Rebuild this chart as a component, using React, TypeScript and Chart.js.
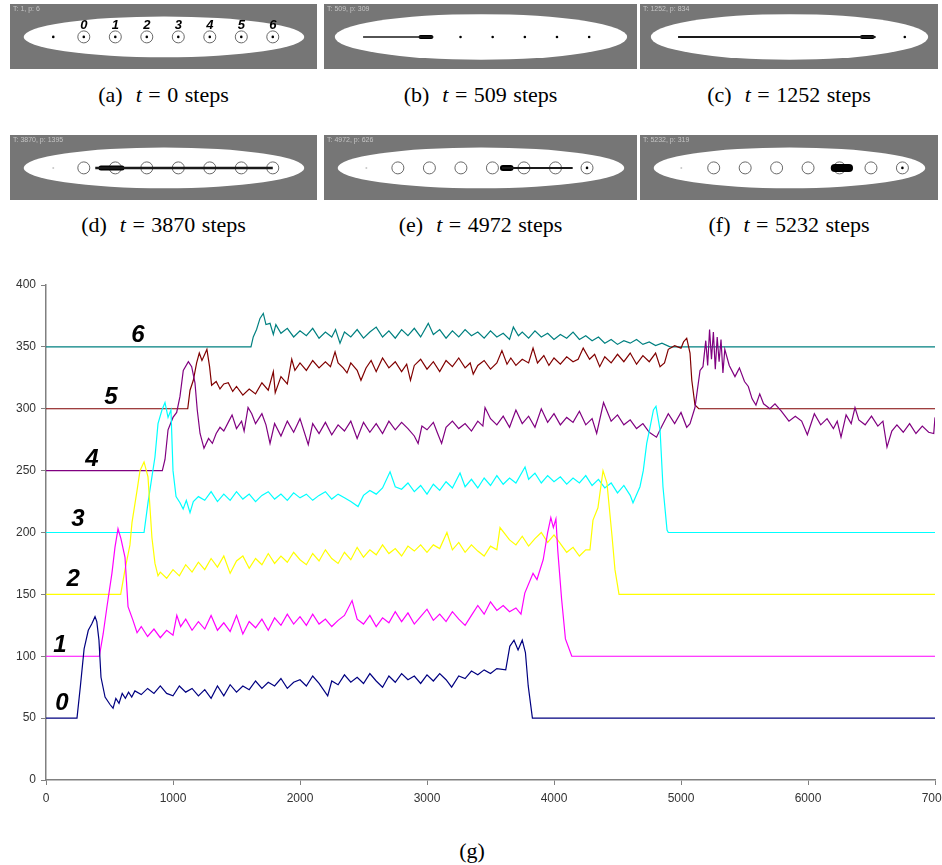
import React, { useEffect, useRef } from 'react';
import { Chart, registerables } from 'chart.js';
Chart.register(...registerables);

// ---------- main chart (g) : [step, value] pairs ----------
const series0: [number, number][] = [[0,50],[244,50],[270,75],[300,106],[333,121],[360,126],[386,132],[400,128],[417,113],[433,83],[465,67],[504,61],[528,58],[550,66],[575,62],[600,70],[625,66],[650,71],[675,67],[700,72],[750,69],[800,74],[850,70],[900,76],[950,70],[1000,68],[1050,76],[1100,71],[1150,74],[1200,68],[1250,73],[1300,66],[1350,76],[1400,68],[1450,77],[1500,71],[1550,76],[1600,73],[1650,80],[1700,74],[1750,79],[1800,76],[1850,82],[1900,74],[1950,79],[2000,81],[2050,76],[2100,84],[2150,78],[2218,68],[2250,80],[2300,77],[2350,85],[2400,79],[2450,83],[2500,78],[2550,86],[2600,80],[2650,75],[2700,84],[2750,79],[2800,86],[2850,81],[2900,84],[2950,78],[3000,85],[3050,80],[3100,86],[3150,81],[3194,75],[3250,84],[3300,82],[3350,88],[3400,85],[3450,89],[3500,86],[3550,90],[3620,89],[3652,108],[3685,113],[3717,105],[3750,113],[3775,103],[3797,76],[3830,50],[7000,50]];
const series1: [number, number][] = [[0,100],[420,100],[450,118],[480,140],[519,167],[543,188],[567,203],[590,195],[622,180],[646,140],[685,129],[717,119],[750,124],[800,116],[850,122],[900,115],[950,121],[1000,117],[1030,133],[1060,124],[1100,130],[1150,121],[1200,128],[1250,122],[1300,133],[1350,121],[1400,127],[1450,120],[1500,133],[1550,118],[1600,128],[1650,123],[1700,130],[1750,121],[1800,131],[1850,125],[1900,134],[1950,126],[2000,132],[2050,125],[2100,134],[2150,126],[2200,130],[2250,124],[2300,129],[2350,133],[2410,145],[2450,130],[2500,126],[2550,133],[2600,124],[2650,131],[2700,127],[2750,136],[2800,128],[2850,135],[2900,126],[2950,132],[3000,138],[3050,129],[3100,134],[3150,128],[3200,136],[3250,130],[3300,125],[3350,133],[3400,141],[3450,134],[3500,144],[3550,137],[3600,141],[3650,136],[3700,139],[3740,134],[3770,151],[3835,167],[3866,162],[3915,178],[3950,200],[3975,212],[3995,204],[4015,211],[4030,185],[4060,146],[4090,114],[4140,100],[7000,100]];
const series2: [number, number][] = [[0,150],[588,150],[622,170],[661,190],[677,208],[717,234],[740,250],[772,257],[803,245],[834,196],[858,175],[882,165],[900,168],[950,163],[1000,170],[1050,165],[1100,174],[1150,168],[1200,176],[1250,170],[1300,179],[1350,172],[1400,181],[1450,167],[1500,177],[1550,181],[1600,171],[1650,179],[1700,174],[1750,183],[1800,175],[1850,181],[1900,176],[1950,184],[2000,178],[2050,174],[2100,183],[2150,177],[2200,186],[2250,179],[2300,175],[2350,184],[2400,178],[2450,188],[2500,180],[2550,186],[2600,182],[2650,190],[2700,183],[2750,187],[2800,181],[2850,189],[2900,185],[2950,190],[3000,184],[3050,190],[3100,187],[3157,200],[3200,186],[3250,192],[3300,184],[3350,190],[3400,185],[3450,181],[3500,189],[3550,186],[3575,204],[3650,194],[3700,190],[3750,197],[3800,189],[3850,195],[3900,200],[3950,192],[4000,198],[4050,191],[4100,184],[4150,188],[4200,181],[4250,186],[4283,186],[4307,210],[4346,220],[4386,250],[4417,240],[4457,197],[4480,170],[4512,150],[7000,150]];
const series3: [number, number][] = [[0,200],[772,200],[803,224],[834,245],[858,261],[882,288],[913,299],[937,305],[961,293],[984,299],[1000,250],[1024,229],[1055,224],[1080,219],[1105,226],[1134,216],[1160,225],[1200,229],[1250,226],[1300,233],[1350,225],[1400,231],[1450,226],[1500,233],[1550,227],[1600,231],[1650,225],[1700,230],[1750,233],[1800,227],[1850,231],[1900,226],[1950,232],[2000,228],[2050,231],[2100,226],[2150,230],[2200,233],[2250,227],[2300,231],[2350,228],[2400,225],[2457,221],[2500,230],[2550,234],[2600,231],[2650,236],[2709,249],[2750,237],[2800,235],[2850,240],[2900,233],[2950,238],[3000,231],[3050,239],[3100,234],[3150,241],[3200,236],[3260,248],[3300,237],[3350,243],[3400,236],[3450,244],[3500,238],[3550,246],[3600,239],[3650,244],[3700,240],[3772,253],[3800,243],[3850,248],[3900,240],[3950,246],[4000,241],[4050,245],[4100,239],[4150,244],[4200,240],[4250,246],[4300,238],[4350,243],[4400,236],[4450,240],[4500,232],[4550,238],[4600,230],[4622,224],[4677,237],[4703,250],[4730,272],[4756,285],[4783,299],[4803,302],[4835,283],[4858,237],[4890,202],[4900,200],[7000,200]];
const series4: [number, number][] = [[0,250],[916,250],[937,259],[961,283],[1000,293],[1029,297],[1055,310],[1081,331],[1121,338],[1147,334],[1173,321],[1191,299],[1213,280],[1244,268],[1280,276],[1310,272],[1340,280],[1370,285],[1400,282],[1440,290],[1465,295],[1500,284],[1540,290],[1560,282],[1591,301],[1620,296],[1650,288],[1700,296],[1732,287],[1764,272],[1800,288],[1850,278],[1900,290],[1950,281],[2000,292],[2065,271],[2100,288],[2150,280],[2200,289],[2250,279],[2300,287],[2350,282],[2400,290],[2450,276],[2500,289],[2550,281],[2600,288],[2650,280],[2700,290],[2750,283],[2800,289],[2850,284],[2900,278],[2930,272],[2960,286],[3000,283],[3050,289],[3080,281],[3115,272],[3150,285],[3200,290],[3250,284],[3300,288],[3350,282],[3400,290],[3440,286],[3457,301],[3500,292],[3550,287],[3600,294],[3650,285],[3700,299],[3750,288],[3800,294],[3850,285],[3900,300],[3950,289],[4000,296],[4050,287],[4100,293],[4150,289],[4200,298],[4250,287],[4300,292],[4336,280],[4390,305],[4450,290],[4500,295],[4550,287],[4600,291],[4650,284],[4700,288],[4750,281],[4807,277],[4850,286],[4900,296],[4950,288],[5000,297],[5045,285],[5071,288],[5110,301],[5150,331],[5173,334],[5195,355],[5210,335],[5225,364],[5240,340],[5255,362],[5270,332],[5285,358],[5300,338],[5315,356],[5330,329],[5345,348],[5380,335],[5425,326],[5460,333],[5500,322],[5530,318],[5560,308],[5590,303],[5620,312],[5650,304],[5700,300],[5740,304],[5790,298],[5850,290],[5900,294],[5950,290],[5995,279],[6050,296],[6100,287],[6150,292],[6200,284],[6230,290],[6260,277],[6300,295],[6340,288],[6370,301],[6400,291],[6450,287],[6500,294],[6550,286],[6590,290],[6622,269],[6660,282],[6700,287],[6750,281],[6800,288],[6850,280],[6900,286],[6950,281],[6990,280],[7000,293]];
const series5: [number, number][] = [[0,300],[1116,300],[1134,315],[1160,323],[1186,337],[1207,345],[1228,339],[1250,344],[1267,348],[1288,334],[1304,319],[1340,322],[1370,316],[1400,320],[1435,321],[1470,314],[1500,318],[1550,311],[1600,316],[1650,312],[1700,321],[1750,315],[1790,330],[1805,313],[1850,326],[1900,320],[1935,340],[1960,331],[2000,337],[2050,331],[2100,339],[2150,333],[2200,338],[2240,334],[2276,346],[2300,337],[2340,333],[2370,329],[2400,337],[2450,331],[2480,323],[2520,333],[2560,339],[2600,330],[2650,341],[2700,333],[2750,338],[2800,330],[2840,336],[2870,323],[2900,335],[2950,340],[3000,332],[3050,338],[3100,330],[3150,339],[3200,334],[3250,341],[3300,333],[3340,337],[3364,328],[3400,335],[3450,339],[3500,332],[3550,337],[3590,347],[3630,336],[3660,341],[3700,335],[3750,340],[3800,337],[3835,349],[3870,337],[3920,343],[3960,335],[4000,341],[4050,336],[4100,342],[4150,338],[4190,340],[4230,349],[4280,340],[4320,344],[4360,334],[4400,342],[4450,337],[4500,344],[4550,338],[4600,345],[4650,336],[4700,343],[4750,338],[4800,345],[4835,334],[4870,337],[4900,348],[4950,351],[5000,349],[5020,354],[5045,357],[5071,345],[5085,323],[5110,303],[5140,300],[7000,300]];
const series6: [number, number][] = [[0,350],[1614,350],[1632,358],[1658,364],[1685,373],[1711,377],[1732,368],[1764,369],[1790,360],[1810,368],[1850,361],[1900,365],[1950,358],[2000,363],[2050,359],[2100,365],[2150,357],[2200,362],[2250,358],[2280,364],[2315,353],[2350,362],[2400,358],[2450,364],[2500,357],[2550,362],[2600,366],[2650,358],[2700,363],[2750,357],[2800,364],[2850,359],[2900,365],[2950,358],[3010,369],[3050,360],[3100,364],[3150,357],[3200,363],[3250,358],[3300,364],[3350,359],[3400,362],[3450,357],[3500,363],[3550,358],[3600,361],[3650,356],[3680,366],[3720,359],[3750,362],[3800,357],[3850,363],[3900,358],[3950,361],[4000,356],[4050,360],[4100,357],[4150,362],[4200,356],[4250,359],[4300,355],[4350,358],[4400,353],[4450,356],[4500,352],[4550,355],[4600,353],[4650,356],[4700,352],[4750,354],[4800,351],[4850,353],[4913,350],[7000,350]];

const seriesList = [series0, series1, series2, series3, series4, series5, series6];
const seriesNames = ['0', '1', '2', '3', '4', '5', '6'];
const seriesColors = ['#000080', '#FF00FF', '#FFFF00', '#00FFFF', '#800080', '#800000', '#008080'];
// hand-written series labels on the chart (step, value)
const labelSteps = [126, 110, 213, 252, 362, 512, 724];
const labelValues = [62, 109, 162, 211, 259, 309, 359];

// ---------- snapshot panels (a)–(f) ----------
const panelLetters = ['a', 'b', 'c', 'd', 'e', 'f'];
const panelSteps = [0, 509, 1252, 3870, 4972, 5232];
const panelInfo = ['T: 1, p: 6', 'T: 509, p: 309', 'T: 1252, p: 834', 'T: 3870, p: 1395', 'T: 4972, p: 626', 'T: 5232, p: 319'];
const sitePositions = [70, 103, 136, 169, 202, 235, 268];
const panelCircles = [sitePositions, [], [], sitePositions, sitePositions, sitePositions];
const panelDots = [[38, 70, 103, 136, 169, 202, 235, 268], [136, 169, 202, 235, 268], [268], [], [268], [268]];
const panelFaintDots = [[], [], [], [38], [37], [36]];
const streamFrom = [null, 36, 35, 82, 179, null];
const streamTo = [null, 108, 238, 268, 253, null];
const streamWidth = [0, 1.6, 2, 2.5, 2, 0];
const blobFrom = [null, 95, 224, 88, 180, 197];
const blobTo = [null, 106, 235, 110, 188, 212];
const blobWidth = [0, 4, 4, 5, 6, 8];

const PANEL_W = [307, 313, 298, 307, 313, 298];
const PANEL_LEFT = [10, 324, 640, 10, 324, 640];
const PANEL_TOP = [4, 4, 4, 135, 135, 135];
const PANEL_H = 65;

function Panel({ idx }: { idx: number }) {
  const ref = useRef<HTMLCanvasElement>(null);
  useEffect(() => {
    if (!ref.current) return;
    const W = PANEL_W[idx];
    const datasets: any[] = [];
    const cy = 32;
    if (streamFrom[idx] !== null) {
      datasets.push({
        type: 'line', data: [{ x: streamFrom[idx], y: cy }, { x: streamTo[idx], y: cy }],
        borderColor: '#1a1a1a', borderWidth: streamWidth[idx], pointRadius: 0,
      });
    }
    if (blobFrom[idx] !== null) {
      datasets.push({
        type: 'line', data: [{ x: blobFrom[idx], y: cy }, { x: blobTo[idx], y: cy }],
        borderColor: '#000', borderWidth: blobWidth[idx], borderCapStyle: 'round', pointRadius: 0,
      });
    }
    datasets.push({
      type: 'scatter', data: panelCircles[idx].map((x) => ({ x, y: cy })),
      pointStyle: 'circle', pointRadius: 6, borderColor: '#6a6a6a', borderWidth: 1,
      backgroundColor: 'rgba(0,0,0,0)',
    });
    datasets.push({
      type: 'scatter', data: panelDots[idx].map((x) => ({ x, y: cy })),
      pointRadius: 1.3, borderWidth: 0, backgroundColor: '#000',
    });
    datasets.push({
      type: 'scatter', data: panelFaintDots[idx].map((x) => ({ x, y: cy })),
      pointRadius: 1, borderWidth: 0, backgroundColor: '#c8c8c8',
    });
    const bg = {
      id: 'bg' + idx,
      beforeDraw(chart: any) {
        const { ctx, scales } = chart;
        ctx.save();
        ctx.fillStyle = '#767676';
        ctx.fillRect(0, 0, chart.width, chart.height);
        const x0 = scales.x.getPixelForValue(7);
        const x1 = scales.x.getPixelForValue(W - 6);
        const y0 = scales.y.getPixelForValue(58);
        const y1 = scales.y.getPixelForValue(6);
        ctx.fillStyle = '#ffffff';
        ctx.beginPath();
        ctx.ellipse((x0 + x1) / 2, (y0 + y1) / 2, (x1 - x0) / 2, (y1 - y0) / 2, 0, 0, Math.PI * 2);
        ctx.fill();
        ctx.fillStyle = '#c4c4c4';
        ctx.font = '7px "Liberation Sans", sans-serif';
        ctx.textBaseline = 'top';
        ctx.fillText(panelInfo[idx], 3, 2);
        ctx.restore();
      },
      afterDatasetsDraw(chart: any) {
        if (idx !== 0) return;
        const { ctx, scales } = chart;
        ctx.save();
        ctx.fillStyle = '#000';
        ctx.font = 'italic bold 13px "Liberation Sans", sans-serif';
        ctx.textAlign = 'center';
        ctx.textBaseline = 'middle';
        sitePositions.forEach((x, i) => {
          ctx.fillText(seriesNames[i], scales.x.getPixelForValue(x), scales.y.getPixelForValue(46));
        });
        ctx.restore();
      },
    };
    const chart = new Chart(ref.current, {
      type: 'scatter',
      data: { datasets },
      options: {
        animation: false, responsive: false, events: [],
        layout: { padding: 0 },
        plugins: { legend: { display: false }, tooltip: { enabled: false } },
        scales: {
          x: { type: 'linear', min: 0, max: W, display: false },
          y: { type: 'linear', min: 0, max: PANEL_H, display: false },
        },
      },
      plugins: [bg],
    });
    return () => chart.destroy();
  }, [idx]);
  return (
    <canvas ref={ref} width={PANEL_W[idx]} height={PANEL_H}
      style={{ position: 'absolute', left: PANEL_LEFT[idx], top: PANEL_TOP[idx], width: PANEL_W[idx], height: PANEL_H }} />
  );
}

function MainChart() {
  const ref = useRef<HTMLCanvasElement>(null);
  useEffect(() => {
    if (!ref.current) return;
    const labelsPlugin = {
      id: 'seriesLabels',
      afterDatasetsDraw(chart: any) {
        const { ctx, scales } = chart;
        ctx.save();
        ctx.fillStyle = '#000';
        ctx.font = 'italic bold 24px "Liberation Sans", sans-serif';
        ctx.textAlign = 'center';
        ctx.textBaseline = 'middle';
        seriesNames.forEach((n, i) => {
          ctx.fillText(n, scales.x.getPixelForValue(labelSteps[i]), scales.y.getPixelForValue(labelValues[i]));
        });
        ctx.restore();
      },
    };
    const tickFont = { family: '"Liberation Sans", Arial, sans-serif', size: 12 };
    const chart = new Chart(ref.current, {
      type: 'line',
      data: {
        datasets: seriesList.map((s, i) => ({
          label: seriesNames[i],
          data: s.map(([x, y]) => ({ x, y })),
          borderColor: seriesColors[i],
          borderWidth: 1.2,
          pointRadius: 0,
          tension: 0,
        })),
      },
      options: {
        animation: false, responsive: false, events: [],
        layout: { padding: { left: 0, right: 30, top: 15, bottom: 0 } },
        plugins: { legend: { display: false }, tooltip: { enabled: false } },
        scales: {
          x: {
            type: 'linear', min: 0, max: 7000,
            ticks: { stepSize: 1000, color: '#333', padding: 6, font: tickFont, callback: (v: any) => String(v) },
            grid: { drawOnChartArea: false, drawTicks: true, tickLength: 5, color: '#808080' },
            border: { display: true, color: '#808080', width: 1.5 },
            afterFit: (scale: any) => { scale.height = 35; },
          },
          y: {
            type: 'linear', min: 0, max: 400,
            ticks: { stepSize: 50, color: '#333', padding: 5, font: tickFont, callback: (v: any) => String(v) },
            grid: { drawOnChartArea: false, drawTicks: true, tickLength: 5, color: '#808080' },
            border: { display: true, color: '#808080', width: 1.5 },
            afterFit: (scale: any) => { scale.width = 46; },
          },
        },
      },
      plugins: [labelsPlugin],
    });
    return () => chart.destroy();
  }, []);
  return (
    <div style={{ position: 'absolute', left: 0, top: 270, width: 942, height: 545, overflow: 'hidden' }}>
      <canvas ref={ref} width={965} height={545} style={{ width: 965, height: 545, display: 'block' }} />
    </div>
  );
}

const captionStyle: React.CSSProperties = {
  position: 'absolute', fontFamily: '"Liberation Serif", "DejaVu Serif", serif', fontSize: 22,
  wordSpacing: 1, color: '#000', whiteSpace: 'nowrap', transform: 'translate(-50%, -50%)', lineHeight: 1,
};

export default function App() {
  return (
    <div style={{ position: 'absolute', left: 0, top: 0, width: 942, height: 865, background: '#fff', overflow: 'hidden' }}>
      {panelLetters.map((l, i) => <Panel key={l} idx={i} />)}
      {panelLetters.map((l, i) => (
        <div key={'c' + l} style={{ ...captionStyle, left: PANEL_LEFT[i] + PANEL_W[i] / 2, top: i < 3 ? 95 : 225 }}>
          ({l})&nbsp; <i>t</i> = {panelSteps[i]} steps
        </div>
      ))}
      <MainChart />
      <div style={{ ...captionStyle, left: 472, top: 851 }}>(g)</div>
    </div>
  );
}
